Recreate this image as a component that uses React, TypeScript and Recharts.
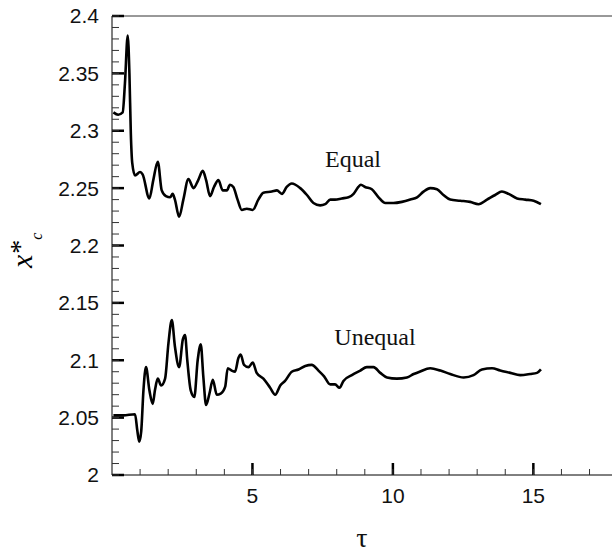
import { LineChart, Line, XAxis, YAxis, ReferenceLine } from 'recharts';

// time (tau) and x*_c for the equal case
const equalTau = [0.05, 0.22, 0.38, 0.46, 0.56, 0.62, 0.67, 0.72, 0.82, 1.0, 1.09, 1.33, 1.47, 1.63, 1.77, 1.92, 2.07, 2.16, 2.24, 2.39, 2.54, 2.72, 2.9, 3.07, 3.23, 3.35, 3.49, 3.63, 3.79, 3.94, 4.09, 4.2, 4.32, 4.47, 4.62, 4.8, 5.01, 5.21, 5.39, 5.69, 5.87, 6.05, 6.22, 6.4, 6.7, 6.94, 7.17, 7.41, 7.59, 7.77, 7.94, 8.18, 8.42, 8.6, 8.77, 8.86, 9.01, 9.25, 9.49, 9.73, 10.02, 10.32, 10.62, 10.86, 11.09, 11.33, 11.57, 11.8, 12.04, 12.4, 12.75, 13.05, 13.35, 13.64, 13.88, 14.12, 14.42, 14.71, 15.01, 15.27];
const equalXc = [2.316, 2.314, 2.316, 2.341, 2.383, 2.35, 2.298, 2.272, 2.261, 2.264, 2.262, 2.241, 2.257, 2.273, 2.248, 2.243, 2.242, 2.245, 2.24, 2.225, 2.24, 2.258, 2.25, 2.257, 2.265, 2.257, 2.243, 2.251, 2.257, 2.248, 2.248, 2.253, 2.251, 2.24, 2.231, 2.232, 2.231, 2.24, 2.246, 2.247, 2.248, 2.245, 2.251, 2.254, 2.25, 2.244, 2.237, 2.235, 2.236, 2.24, 2.24, 2.241, 2.242, 2.245, 2.251, 2.253, 2.251, 2.249, 2.242, 2.237, 2.237, 2.238, 2.24, 2.242, 2.247, 2.25, 2.249, 2.244, 2.24, 2.239, 2.238, 2.236, 2.24, 2.244, 2.247, 2.245, 2.241, 2.24, 2.239, 2.236];

// time (tau) and x*_c for the unequal case
const unequalTau = [0.05, 0.4, 0.82, 0.9, 0.97, 1.04, 1.12, 1.21, 1.33, 1.45, 1.53, 1.63, 1.75, 1.89, 2.01, 2.13, 2.24, 2.39, 2.52, 2.6, 2.68, 2.8, 2.93, 3.05, 3.16, 3.25, 3.35, 3.47, 3.59, 3.73, 3.87, 4.03, 4.12, 4.26, 4.38, 4.5, 4.58, 4.7, 4.86, 5.01, 5.15, 5.39, 5.63, 5.81, 5.99, 6.16, 6.4, 6.64, 6.88, 7.11, 7.35, 7.55, 7.77, 7.94, 8.1, 8.24, 8.54, 8.84, 9.07, 9.31, 9.55, 9.79, 10.14, 10.5, 10.74, 10.95, 11.33, 11.69, 12.04, 12.52, 12.87, 13.17, 13.53, 13.82, 14.18, 14.53, 14.89, 15.13, 15.27];
const unequalXc = [2.052, 2.052, 2.053, 2.039, 2.029, 2.038, 2.074, 2.094, 2.074, 2.062, 2.074, 2.084, 2.078, 2.084, 2.115, 2.135, 2.112, 2.094, 2.118, 2.122, 2.1, 2.074, 2.068, 2.1, 2.114, 2.086, 2.061, 2.071, 2.083, 2.07, 2.071, 2.077, 2.093, 2.091, 2.09, 2.102, 2.105, 2.096, 2.094, 2.098, 2.089, 2.084, 2.076, 2.07, 2.078, 2.082, 2.09, 2.092, 2.095, 2.096, 2.091, 2.086, 2.079, 2.079, 2.076, 2.082, 2.087, 2.091, 2.094, 2.094, 2.089, 2.085, 2.084, 2.085, 2.088, 2.09, 2.093, 2.091, 2.088, 2.085, 2.087, 2.092, 2.093, 2.091, 2.089, 2.087, 2.088, 2.089, 2.092];

const xTicks = [1, 2, 3, 4, 5, 6, 7, 8, 9, 10, 11, 12, 13, 14, 15, 16, 17];
const xMajor = [5, 10, 15];
const yTicks = [2, 2.01, 2.02, 2.03, 2.04, 2.05, 2.06, 2.07, 2.08, 2.09, 2.1, 2.11, 2.12, 2.13, 2.14, 2.15, 2.16, 2.17, 2.18, 2.19, 2.2, 2.21, 2.22, 2.23, 2.24, 2.25, 2.26, 2.27, 2.28, 2.29, 2.3, 2.31, 2.32, 2.33, 2.34, 2.35, 2.36, 2.37, 2.38, 2.39, 2.4];
const yMajor = [2, 2.05, 2.1, 2.15, 2.2, 2.25, 2.3, 2.35, 2.4];

const X_DOMAIN = [0, 17.8];
const Y_DOMAIN = [2, 2.4];

// one table keyed by tau, each series fills its own column
const rowMap = new Map<number, any>();
equalTau.forEach((t, i) => rowMap.set(t, { ...(rowMap.get(t) || { t }), eq: equalXc[i] }));
unequalTau.forEach((t, i) => rowMap.set(t, { ...(rowMap.get(t) || { t }), un: unequalXc[i] }));
const chartData = Array.from(rowMap.values()).sort((a, b) => a.t - b.t);

// plot box: 500 x 459 px, major tick marks are 12 px long
const MAJOR_DX = (12 * (X_DOMAIN[1] - X_DOMAIN[0])) / 500;
const MAJOR_DY = (12 * (Y_DOMAIN[1] - Y_DOMAIN[0])) / 459;

const isMajor = (v: number, list: number[]) => list.some(m => Math.abs(m - v) < 1e-6);
const sans = '"Liberation Sans", Arial, sans-serif';
const serif = '"Liberation Serif", "Times New Roman", serif';
const tickStyle = { fill: '#111', fontSize: 21, fontFamily: sans };
const CHART = { width: 612, height: 552, margin: { top: 16, right: 0, bottom: 0, left: 0 } };
const layer = { position: 'absolute' as const, left: 0, top: 0 };

export default function App() {
  return (
    <div style={{ ...layer, width: 612, height: 552 }}>
      {/* curves */}
      <div style={layer}>
        <LineChart {...CHART} data={chartData}>
          <XAxis type="number" dataKey="t" domain={X_DOMAIN} allowDataOverflow height={77}
            tick={false} tickLine={false} axisLine={false} />
          <YAxis type="number" domain={Y_DOMAIN} allowDataOverflow width={112}
            tick={false} tickLine={false} axisLine={false} />
          <Line dataKey="eq" type="monotone" stroke="#000" strokeWidth={2.6} dot={false} connectNulls isAnimationActive={false} />
          <Line dataKey="un" type="monotone" stroke="#000" strokeWidth={2.6} dot={false} connectNulls isAnimationActive={false} />
        </LineChart>
      </div>
      {/* frame, ticks and tick labels on top */}
      <div style={layer}>
        <LineChart {...CHART} data={chartData}>
          <XAxis
            type="number"
            dataKey="t"
            domain={X_DOMAIN}
            allowDataOverflow
            ticks={xTicks}
            interval={0}
            height={77}
            tickSize={-6}
            tickMargin={19}
            tickLine={{ stroke: '#333', strokeWidth: 1 }}
            axisLine={{ stroke: '#000', strokeWidth: 1 }}
            tick={tickStyle}
            tickFormatter={(v: number) => (isMajor(v, xMajor) ? String(v) : '')}
          />
          <YAxis
            type="number"
            domain={Y_DOMAIN}
            allowDataOverflow
            ticks={yTicks}
            interval={0}
            width={112}
            tickSize={-7}
            tickMargin={20}
            tickLine={{ stroke: '#333', strokeWidth: 1 }}
            axisLine={{ stroke: '#000', strokeWidth: 1 }}
            tick={tickStyle}
            tickFormatter={(v: number) => (isMajor(v, yMajor) ? String(Math.round(v * 100) / 100) : '')}
          />
          <ReferenceLine y={2.4} stroke="#333" strokeWidth={1} />
          {xMajor.map(v => (
            <ReferenceLine key={`xm-${v}`} ifOverflow="visible" stroke="#000" strokeWidth={2.5}
              segment={[{ x: v, y: Y_DOMAIN[0] }, { x: v, y: Y_DOMAIN[0] + MAJOR_DY }]} />
          ))}
          {yMajor.map(v => (
            <ReferenceLine key={`ym-${v}`} ifOverflow="visible" stroke="#000" strokeWidth={2.5}
              segment={[{ x: X_DOMAIN[0], y: v }, { x: X_DOMAIN[0] + MAJOR_DX, y: v }]} />
          ))}
          <Line dataKey="eq" type="monotone" stroke="none" dot={false} connectNulls isAnimationActive={false} />
        </LineChart>
      </div>
      <svg width={612} height={552} style={{ ...layer, pointerEvents: 'none' }}>
        <text x={353} y={167} textAnchor="middle" fontFamily={serif} fontSize={24} fill="#111">Equal</text>
        <text x={375} y={345} textAnchor="middle" fontFamily={serif} fontSize={24} fill="#111">Unequal</text>
        <text x={362} y={547} textAnchor="middle" fontFamily={serif} fontSize={28} fill="#111">τ</text>
        <text x={32} y={268} transform="rotate(-90 32 268)" fontFamily={serif} fill="#000">
          <tspan fontStyle="italic" fontSize={30}>x</tspan>
          <tspan fontSize={28} dx={1} dy={-3}>*</tspan>
          <tspan fontStyle="italic" fontSize={16} dy={13}>c</tspan>
        </text>
      </svg>
    </div>
  );
}
